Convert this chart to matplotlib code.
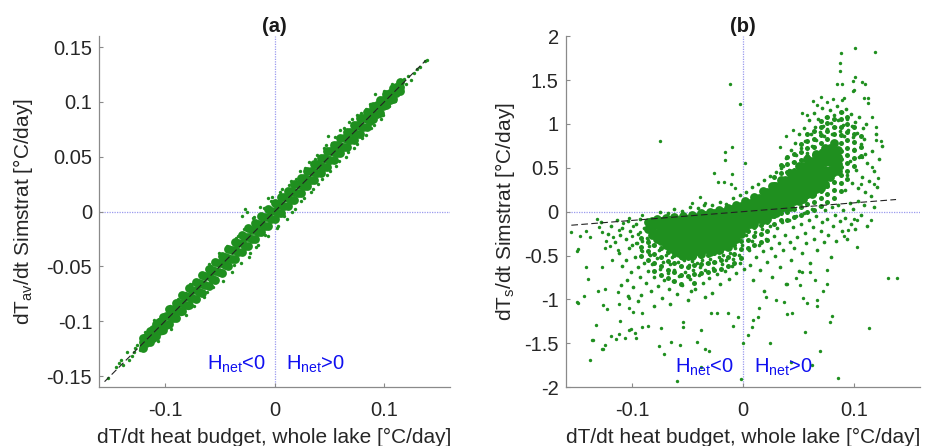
import matplotlib
matplotlib.use('Agg')
import matplotlib.pyplot as plt
from matplotlib.transforms import blended_transform_factory

plt.rcParams['font.family'] = ['Liberation Sans', 'DejaVu Sans']
plt.rcParams['mathtext.fontset'] = 'custom'
plt.rcParams['mathtext.rm'] = 'Liberation Sans'
plt.rcParams['mathtext.it'] = 'Liberation Sans'
plt.rcParams['mathtext.default'] = 'regular'

# ---------------- data: panel (a) ----------------
a_band_x = [-0.120, -0.114, -0.108, -0.102, -0.096, -0.090, -0.084, -0.078, -0.072, -0.066,
            -0.060, -0.054, -0.048, -0.042, -0.036, -0.030, -0.024, -0.018, -0.012, -0.006,
            0.000, 0.006, 0.012, 0.018, 0.024, 0.030, 0.036, 0.042, 0.048, 0.054,
            0.060, 0.066, 0.072, 0.078, 0.084, 0.090, 0.096, 0.102, 0.108, 0.114]
a_band_mid = [-0.119, -0.115, -0.107, -0.103, -0.095, -0.091, -0.083, -0.078, -0.071, -0.066,
              -0.059, -0.054, -0.047, -0.042, -0.035, -0.029, -0.023, -0.017, -0.011, -0.005,
              0.001, 0.006, 0.012, 0.018, 0.024, 0.030, 0.036, 0.042, 0.048, 0.054,
              0.060, 0.066, 0.072, 0.078, 0.084, 0.090, 0.096, 0.102, 0.108, 0.114]
a_band_lo = [-0.124, -0.119, -0.113, -0.108, -0.102, -0.097, -0.091, -0.085, -0.080, -0.074,
             -0.068, -0.062, -0.056, -0.050, -0.043, -0.037, -0.031, -0.025, -0.019, -0.013,
             -0.007, -0.001, 0.005, 0.011, 0.017, 0.023, 0.029, 0.035, 0.041, 0.047,
             0.053, 0.059, 0.065, 0.071, 0.077, 0.084, 0.090, 0.097, 0.103, 0.110]
a_band_hi = [-0.115, -0.109, -0.102, -0.096, -0.089, -0.083, -0.076, -0.070, -0.064, -0.058,
             -0.052, -0.046, -0.040, -0.034, -0.028, -0.021, -0.015, -0.010, -0.004, 0.002,
             0.008, 0.013, 0.019, 0.025, 0.031, 0.037, 0.043, 0.049, 0.055, 0.061,
             0.067, 0.073, 0.079, 0.085, 0.091, 0.096, 0.102, 0.107, 0.113, 0.118]
a_band2_x = [-0.117, -0.111, -0.105, -0.099, -0.093, -0.087, -0.081, -0.075, -0.069, -0.063,
             -0.057, -0.051, -0.045, -0.039, -0.033, -0.027, -0.021, -0.015, -0.009, -0.003,
             0.003, 0.009, 0.015, 0.021, 0.027, 0.033, 0.039, 0.045, 0.051, 0.057,
             0.063, 0.069, 0.075, 0.081, 0.087, 0.093, 0.099, 0.105, 0.111]
a_band2_lo = [-0.120, -0.115, -0.109, -0.103, -0.097, -0.091, -0.085, -0.079, -0.073, -0.067,
              -0.061, -0.055, -0.049, -0.043, -0.037, -0.031, -0.025, -0.019, -0.013, -0.007,
              -0.001, 0.005, 0.011, 0.017, 0.023, 0.029, 0.035, 0.041, 0.047, 0.053,
              0.059, 0.065, 0.071, 0.077, 0.083, 0.089, 0.096, 0.102, 0.108]
a_band2_hi = [-0.114, -0.107, -0.101, -0.095, -0.089, -0.083, -0.077, -0.071, -0.065, -0.059,
              -0.053, -0.047, -0.041, -0.035, -0.029, -0.023, -0.017, -0.011, -0.005, 0.001,
              0.007, 0.013, 0.019, 0.025, 0.031, 0.037, 0.043, 0.049, 0.055, 0.061,
              0.067, 0.073, 0.079, 0.085, 0.091, 0.097, 0.102, 0.108, 0.114]
a_sparse_x = [-0.152, -0.145, -0.142, -0.140, -0.138, -0.135, -0.133, -0.130, -0.128, -0.127,
              -0.125, -0.123, -0.121, -0.118, -0.116, -0.113, -0.110, -0.108, -0.105, -0.103,
              -0.100, -0.097, -0.095, -0.092, -0.088, -0.085, -0.082, -0.079, -0.075, -0.070,
              -0.066, -0.062, -0.058, -0.053, -0.050, -0.046, -0.041, -0.037, -0.033, -0.030,
              -0.027, -0.025, -0.022, -0.020, -0.017, -0.013, -0.009, -0.006, -0.003, 0.003,
              0.005, 0.009, 0.013, 0.016, 0.020, 0.024, 0.028, 0.033, 0.037, 0.040,
              0.045, 0.048, 0.049, 0.052, 0.056, 0.060, 0.065, 0.068, 0.072, 0.075,
              0.080, 0.083, 0.085, 0.088, 0.092, 0.097, 0.100, 0.104, 0.107, 0.110,
              0.113, 0.116, 0.118, 0.120, 0.122, 0.124, 0.127, 0.130, 0.133, 0.137, 0.139]
a_sparse_y = [-0.152, -0.142, -0.138, -0.135, -0.140, -0.128, -0.135, -0.132, -0.128, -0.124,
              -0.122, -0.126, -0.117, -0.110, -0.113, -0.116, -0.104, -0.100, -0.098, -0.111,
              -0.094, -0.104, -0.086, -0.098, -0.080, -0.093, -0.074, -0.088, -0.066, -0.080,
              -0.057, -0.073, -0.050, -0.064, -0.040, -0.057, -0.032, -0.049, -0.022, -0.004,
              0.002, 0.000, -0.038, -0.006, -0.032, 0.004, -0.021, 0.012, 0.010, -0.013,
              0.018, -0.004, 0.024, 0.000, 0.030, 0.010, 0.040, 0.018, 0.048, 0.025,
              0.058, 0.033, 0.069, 0.063, 0.042, 0.074, 0.050, 0.082, 0.058, 0.088,
              0.067, 0.094, 0.092, 0.076, 0.107, 0.084, 0.110, 0.096, 0.116, 0.101,
              0.118, 0.112, 0.121, 0.116, 0.124, 0.120, 0.126, 0.130, 0.132, 0.137, 0.138]
a_edge_x = [-0.110, -0.106, -0.098, -0.094, -0.086, -0.081, -0.077, -0.073, -0.068, -0.064,
            -0.060, -0.056, -0.051, -0.047, -0.043, -0.039, -0.035, -0.031, -0.028, -0.023,
            -0.019, -0.015, -0.010, -0.006, -0.002, 0.002, 0.007, 0.011, 0.015, 0.019,
            0.023, 0.027, 0.031, 0.035, 0.039, 0.043, 0.047, 0.051, 0.055, 0.059,
            0.063, 0.067, 0.071, 0.075, 0.079, 0.083, 0.087, 0.091, 0.095, 0.099]
a_edge_y = [-0.099, -0.118, -0.088, -0.107, -0.075, -0.094, -0.066, -0.086, -0.058, -0.078,
            -0.048, -0.069, -0.038, -0.063, -0.031, -0.055, -0.024, -0.047, -0.016, -0.041,
            -0.005, -0.030, 0.003, -0.022, 0.013, -0.015, 0.021, -0.007, 0.028, 0.002,
            0.037, 0.012, 0.045, 0.021, 0.052, 0.030, 0.061, 0.037, 0.068, 0.046,
            0.076, 0.054, 0.084, 0.062, 0.090, 0.070, 0.098, 0.079, 0.104, 0.088]

# ---------------- data: panel (b) ----------------
b_core_x = [-0.086, -0.078, -0.070, -0.062, -0.054, -0.046, -0.038, -0.030, -0.022, -0.014,
            -0.006, 0.002, 0.010, 0.018, 0.026, 0.034, 0.042, 0.050, 0.058, 0.066,
            0.074, 0.082]
b_core_y = [[-0.12, -0.20],
            [-0.08, -0.15, -0.24, -0.31],
            [-0.07, -0.14, -0.22, -0.30, -0.38],
            [-0.06, -0.13, -0.21, -0.29, -0.37, -0.44],
            [-0.05, -0.12, -0.20, -0.28, -0.36, -0.44, -0.50],
            [-0.04, -0.11, -0.19, -0.27, -0.35, -0.43, -0.50],
            [-0.02, -0.09, -0.17, -0.25, -0.33, -0.41, -0.48],
            [0.00, -0.07, -0.15, -0.23, -0.31, -0.39, -0.46],
            [0.02, -0.05, -0.13, -0.21, -0.29, -0.37, -0.44],
            [0.04, -0.03, -0.11, -0.19, -0.27, -0.34, -0.40],
            [0.08, 0.00, -0.08, -0.16, -0.24, -0.31],
            [0.12, 0.04, -0.04, -0.12, -0.19],
            [0.17, 0.09, 0.01, -0.07, -0.14],
            [0.23, 0.15, 0.07, -0.01, -0.09],
            [0.29, 0.21, 0.13, 0.05, -0.03],
            [0.36, 0.28, 0.20, 0.12, 0.04],
            [0.44, 0.36, 0.28, 0.20, 0.12, 0.05],
            [0.52, 0.44, 0.36, 0.28, 0.20, 0.12],
            [0.60, 0.52, 0.44, 0.36, 0.28, 0.20],
            [0.66, 0.58, 0.50, 0.42, 0.34, 0.26],
            [0.72, 0.64, 0.56, 0.48, 0.40, 0.32],
            [0.78, 0.70, 0.62, 0.54, 0.46]]
b_core2_x = [-0.082, -0.074, -0.066, -0.058, -0.050, -0.042, -0.034, -0.026, -0.018, -0.010,
             -0.002, 0.006, 0.014, 0.022, 0.030, 0.038, 0.046, 0.054, 0.062, 0.070,
             0.078, 0.086]
b_core2_y = [[-0.11, -0.19, -0.27],
             [-0.11, -0.18, -0.26, -0.34],
             [-0.10, -0.17, -0.25, -0.33, -0.41],
             [-0.09, -0.16, -0.24, -0.32, -0.40, -0.47],
             [-0.08, -0.15, -0.23, -0.31, -0.39, -0.47],
             [-0.06, -0.13, -0.21, -0.29, -0.37, -0.45],
             [-0.04, -0.11, -0.19, -0.27, -0.35, -0.43],
             [-0.02, -0.09, -0.17, -0.25, -0.33, -0.41],
             [0.00, -0.07, -0.15, -0.23, -0.31, -0.39],
             [0.03, -0.04, -0.12, -0.20, -0.28, -0.35],
             [0.06, -0.02, -0.10, -0.18, -0.26],
             [0.10, 0.02, -0.06, -0.14],
             [0.16, 0.08, 0.00, -0.08],
             [0.22, 0.14, 0.06, -0.02, -0.08],
             [0.29, 0.21, 0.13, 0.05, -0.02],
             [0.36, 0.28, 0.20, 0.12, 0.05],
             [0.44, 0.36, 0.28, 0.20, 0.12],
             [0.52, 0.44, 0.36, 0.28, 0.20, 0.14],
             [0.58, 0.50, 0.42, 0.34, 0.26, 0.20],
             [0.65, 0.57, 0.49, 0.41, 0.33, 0.27],
             [0.72, 0.64, 0.56, 0.48, 0.40],
             [0.70, 0.62, 0.54, 0.46]]

b_dense_x = [0.028, 0.034, 0.040, 0.046, 0.052, 0.058, 0.064, 0.070, 0.076, 0.082,
             0.088, 0.094, 0.100, 0.106,
             -0.092, -0.086, -0.080, -0.074, -0.068, -0.062, -0.056, -0.050, -0.044, -0.038,
             -0.032, -0.026, -0.020, -0.014, -0.008, -0.002, 0.004, 0.010, 0.016, 0.022]
b_dense_y = [[-0.14, -0.05, 0.04, 0.13, 0.22, 0.31, 0.40],
             [-0.10, -0.01, 0.08, 0.17, 0.26, 0.35, 0.44, 0.53],
             [-0.09, 0.00, 0.09, 0.18, 0.27, 0.36, 0.45, 0.54, 0.62],
             [-0.06, 0.03, 0.12, 0.21, 0.30, 0.39, 0.48, 0.57, 0.66],
             [-0.04, 0.05, 0.14, 0.23, 0.32, 0.41, 0.50, 0.59, 0.68, 0.77],
             [0.00, 0.09, 0.18, 0.27, 0.36, 0.45, 0.54, 0.63, 0.72, 0.81, 0.88],
             [0.02, 0.11, 0.20, 0.29, 0.38, 0.47, 0.56, 0.65, 0.74, 0.83, 0.92],
             [0.06, 0.15, 0.24, 0.33, 0.42, 0.51, 0.60, 0.69, 0.78, 0.87, 0.96, 1.03],
             [0.11, 0.20, 0.29, 0.38, 0.47, 0.56, 0.65, 0.74, 0.83, 0.92, 1.01, 1.08],
             [0.16, 0.25, 0.34, 0.43, 0.52, 0.61, 0.70, 0.79, 0.88, 0.97, 1.06],
             [0.24, 0.33, 0.42, 0.51, 0.60, 0.69, 0.78, 0.87, 0.96, 1.05, 1.13],
             [0.37, 0.46, 0.55, 0.64, 0.73, 0.82, 0.91, 1.00, 1.08],
             [0.52, 0.61, 0.70, 0.79, 0.88, 0.97],
             [0.63, 0.74, 0.86],
             [-0.30, -0.40, -0.50],
             [-0.35, -0.45, -0.55],
             [-0.38, -0.48, -0.58, -0.68],
             [-0.42, -0.52, -0.62, -0.72],
             [-0.46, -0.56, -0.66, -0.76],
             [-0.49, -0.59, -0.69, -0.79],
             [-0.52, -0.62, -0.72, -0.82],
             [-0.53, -0.63, -0.73],
             [-0.51, -0.61, -0.71, -0.81],
             [-0.50, -0.60, -0.70],
             [-0.49, -0.59, -0.69],
             [-0.47, -0.57, -0.67],
             [-0.45, -0.55, -0.65],
             [-0.42, -0.52, -0.62],
             [-0.38, -0.48, -0.58],
             [-0.33, -0.43, -0.53],
             [-0.22, -0.32, -0.42],
             [-0.18, -0.28, -0.38],
             [-0.15, -0.25, -0.35],
             [-0.12, -0.22, -0.32]]

b_mid_x = [-0.112, -0.109, -0.106, -0.105, -0.103, -0.101, -0.099, -0.098, -0.096, -0.095,
           -0.093, -0.092, -0.091, -0.089, -0.088, -0.087, -0.086, -0.084, -0.083, -0.082,
           -0.081, -0.080, -0.078, -0.077, -0.076, -0.075, -0.073, -0.072, -0.071, -0.070,
           -0.068, -0.067, -0.066, -0.064, -0.063, -0.062, -0.060, -0.059, -0.058, -0.056,
           -0.055, -0.053, -0.052, -0.050, -0.049, -0.048, -0.046, -0.045, -0.043, -0.042,
           -0.040, -0.039, -0.037, -0.036, -0.034, -0.033, -0.031, -0.030, -0.028, -0.027,
           -0.025, -0.024, -0.022, -0.021, -0.019, -0.018, -0.016, -0.015, -0.013, -0.012,
           -0.010, -0.009, -0.007, -0.006, -0.004, -0.003, -0.001, 0.001, -0.034, -0.047,
           -0.066, -0.080, -0.095, -0.104, -0.110,
           -0.128, -0.122, -0.119, -0.116, -0.114, -0.111, -0.109, -0.106, -0.104, -0.102,
           -0.100, -0.097, -0.095, -0.093, -0.091, -0.089, -0.087, -0.085,
           0.003, 0.005, 0.006, 0.008, 0.009, 0.011, 0.012, 0.014, 0.015, 0.017,
           0.018, 0.019, 0.021, 0.022, 0.024, 0.025, 0.026, 0.028, 0.029, 0.031,
           0.032, 0.033, 0.035, 0.036, 0.038, 0.039, 0.041, 0.042, 0.043, 0.045,
           0.046, 0.048, 0.049, 0.050, 0.052, 0.053, 0.055, 0.056, 0.057, 0.059,
           0.060, 0.062, 0.063, 0.064, 0.066, 0.067, 0.069, 0.070, 0.071, 0.073,
           0.074, 0.076, 0.077, 0.079, 0.080, 0.081, 0.083, 0.084, 0.086, 0.087,
           0.089, 0.090, 0.092, 0.094, 0.096, 0.097, 0.099, 0.101, 0.104, 0.106,
           0.109, 0.112, 0.115, 0.118,
           0.092, 0.094, 0.096, 0.098, 0.100, 0.102, 0.104, 0.105, 0.107, 0.109,
           0.110, 0.112, 0.114, 0.116, 0.118, 0.120, 0.121, 0.123, 0.125,
           0.036, 0.039, 0.041, 0.043, 0.045, 0.047, 0.048, 0.050, 0.052, 0.053,
           0.055, 0.056, 0.058, 0.059, 0.061, 0.062, 0.064, 0.065, 0.066, 0.068,
           0.069, 0.071, 0.072, 0.073, 0.075, 0.076, 0.078, 0.079, 0.080, 0.082,
           0.083, 0.085, 0.086, 0.087, 0.089, 0.090, 0.091, 0.093, 0.094, 0.095,
           0.097, 0.098, 0.099, 0.101, 0.103, 0.105, 0.106, 0.108, 0.110, 0.111,
           -0.075, -0.068, -0.062, -0.055, -0.048, -0.041, -0.035, -0.028, -0.021, -0.015,
           -0.009, -0.003, 0.003, 0.008, 0.013, 0.019, 0.024, 0.030, 0.034]
b_mid_y = [-0.47, -0.62, -0.55, -0.78, -0.41, -0.69, -0.86, -0.52, -0.36, -0.63,
           -0.75, -0.95, -0.45, -0.58, -0.81, -0.30, -0.68, -0.49, -0.90, -0.60,
           -0.38, -0.74, -0.53, -0.85, -0.44, -0.65, -0.99, -0.57, -0.78, -0.49,
           -0.70, -0.88, -0.60, -0.52, -0.79, -0.66, -0.94, -0.57, -0.73, -0.62,
           -0.84, -0.55, -0.69, -1.01, -0.61, -0.77, -0.56, -0.66, -0.88, -0.58,
           -0.72, -0.63, -0.55, -0.81, -0.67, -0.59, -0.76, -0.54, -0.93, -0.64,
           -0.57, -0.71, -0.52, -0.83, -0.60, -0.49, -0.68, -0.55, -0.77, -0.47,
           -0.62, -0.54, -0.41, -0.70, -0.49, -0.58, -0.38, -0.65, -0.97, -0.91,
           -1.05, -1.08, -1.02, -0.96, -0.84,
           -0.12, -0.26, -0.16, -0.35, -0.09, -0.27, -0.19, -0.31, -0.11, -0.22,
           -0.38, -0.14, -0.26, -0.08, -0.33, -0.19, -0.12, -0.39,
           -0.27, -0.44, -0.61, -0.33, -0.78, -0.23, -0.52, -0.38, -0.67, -0.20,
           -0.45, -0.90, -0.31, -0.57, -0.16, -0.42, -0.74, -0.28, -0.51, -0.19,
           -0.36, -0.63, -0.12, -0.44, -0.27, -0.82, -0.09, -0.35, -0.55, -0.18,
           -0.42, -0.05, -0.29, -0.68, -0.14, -0.47, -0.02, -0.24, -0.36, -0.09,
           -0.58, 0.03, -0.17, -0.31, -0.05, -0.44, 0.06, -0.22, -0.12, -0.35,
           0.02, -0.08, -0.27, -0.52, 0.05, -0.16, -0.04, -0.33, 0.08, -0.11,
           -0.22, 0.02, -0.07, -0.31, 0.10, -0.14, 0.03, -0.20, 0.12, -0.04,
           0.07, -0.16, 0.18, 0.05,
           0.25, 0.42, 0.58, 0.33, 0.71, 0.48, 0.27, 0.62, 0.40, 0.83,
           0.22, 0.55, 0.35, 0.69, 0.46, 0.88, 0.28, 0.60, 0.75,
           0.52, 0.61, 0.47, 0.70, 0.56, 0.78, 0.64, 0.88, 0.72, 0.59,
           0.95, 0.81, 0.67, 1.04, 0.88, 0.75, 1.12, 0.96, 0.82, 1.05,
           0.91, 1.18, 0.98, 0.86, 1.08, 0.94, 1.16, 1.01, 0.89, 1.10,
           0.97, 1.20, 1.04, 0.92, 1.13, 0.99, 0.86, 1.17, 1.05, 0.93,
           1.11, 0.98, 0.85, 1.02, 0.90, 1.08, 0.77, 0.95, 0.66, 1.00,
           0.00, -0.01, 0.03, 0.01, 0.05, 0.04, 0.08, 0.07, 0.11, 0.09,
           0.15, 0.19, 0.22, 0.28, 0.32, 0.36, 0.41, 0.45, 0.50]

b_out_x = [-0.155, -0.149, -0.147, -0.142, -0.138, -0.132, -0.130, -0.127, -0.124, -0.125,
           -0.120, -0.118, -0.113, -0.117, -0.112, -0.108, -0.103, -0.100, -0.097, -0.099,
           -0.092, -0.091, -0.093, -0.085, -0.086, -0.026, -0.016, -0.016, -0.023, -0.017,
           -0.010, -0.011, -0.007, -0.039, -0.046, -0.034, -0.012, -0.003, -0.075, -0.010,
           0.002,
           0.101, 0.088, 0.119, 0.087, 0.087, 0.085, 0.089, 0.101, 0.099, 0.107,
           0.110, 0.100, 0.099, 0.091, 0.089, 0.081, 0.076, 0.070, 0.063, 0.067,
           0.053, 0.058, 0.109, 0.113, 0.113, 0.116, 0.120, 0.124, 0.120, 0.039,
           0.033, 0.045, 0.115, 0.100, 0.103, 0.095, 0.091, 0.103, 0.122, 0.118,
           0.106, 0.116, 0.107,
           0.131, 0.139, 0.114, 0.080, 0.078, 0.056, 0.069, 0.086, 0.062, 0.024,
           0.013, 0.004, 0.040, 0.044, 0.054, 0.058, 0.067, 0.067, 0.072, 0.076,
           0.065, 0.051, 0.037, 0.030, 0.008, 0.009, 0.014, 0.021, 0.040, 0.048,
           0.053, 0.060, 0.076, 0.043,
           -0.149, -0.144, -0.140, -0.138, -0.135, -0.133, -0.127, -0.125, -0.126, -0.125,
           -0.123, -0.119, -0.115, -0.112, -0.111, -0.107, -0.113, -0.112, -0.103, -0.101,
           -0.098, -0.097, -0.103, -0.103, -0.099, -0.091, -0.086, -0.091, -0.076, -0.071,
           -0.074, -0.060, -0.065, -0.057, -0.054, -0.054, -0.042, -0.038, -0.034, -0.031,
           -0.038, -0.029, -0.009, -0.002, 0.000, -0.024, -0.014, -0.005,
           -0.150, -0.150, -0.142, -0.127, -0.131, -0.136, -0.126]
b_out_y = [-0.23, -0.43, -0.28, -0.22, -0.29, -0.08, -0.18, -0.23, -0.33, -0.42,
           -0.39, -0.55, -0.44, -0.29, -0.21, -0.13, -0.07, -0.28, -0.36, -0.16,
           -0.44, -0.04, -0.23, -0.48, -0.32, 0.44, 0.68, 0.59, 0.34, 0.34,
           0.43, 0.32, 0.27, 0.17, 0.10, 0.10, 1.46, 1.23, 0.81, 0.74,
           0.55,
           1.87, 1.81, 1.82, 1.69, 1.60, 1.46, 1.45, 1.53, 1.49, 1.48,
           1.45, 1.39, 1.37, 1.29, 1.27, 1.28, 1.25, 1.31, 1.26, 1.21,
           1.12, 1.10, 1.29, 1.29, 1.24, 1.08, 0.97, 0.80, 0.82, 0.86,
           0.74, 0.93, -0.10, -0.08, -0.09, -0.21, -0.28, -0.40, 0.38, 0.32,
           0.32, 0.51, 0.62,
           -0.76, -0.76, -1.33, -1.19, -1.26, -1.37, -1.59, -1.90, -1.75, -1.50,
           -1.20, -1.41, -1.17, -1.16, -0.99, -1.04, -1.01, -1.07, -0.91, -0.82,
           -0.78, -0.84, -1.03, -1.01, -1.32, -1.24, -1.10, -0.97, -0.82, -0.76,
           -0.69, -0.69, -0.67, -1.71,
           -1.04, -0.96, -0.77, -1.69, -1.46, -1.29, -1.57, -1.52, -1.06, -0.88,
           -1.11, -1.42, -1.45, -1.40, -1.25, -1.44, -0.92, -1.05, -1.35, -1.34,
           -1.38, -1.44, -1.10, -0.99, -1.14, -1.31, -1.30, -1.16, -1.53, -1.62,
           -1.33, -1.93, -1.49, -1.52, -1.32, -1.26, -1.49, -1.35, -1.56, -1.59,
           -1.77, -1.16, -1.30, -1.91, -1.50, -1.15, -1.15, -1.20,
           -1.03, -0.45, -0.63, -0.63, -0.90, -1.46, -1.57]

one_to_one = [-0.155, 0.138]

x_ticks = [-0.1, 0, 0.1]
x_ticklabels = ['-0.1', '0', '0.1']
a_yticks = [-0.15, -0.1, -0.05, 0, 0.05, 0.1, 0.15]
a_yticklabels = ['-0.15', '-0.1', '-0.05', '0', '0.05', '0.1', '0.15']
b_yticks = [-2, -1.5, -1, -0.5, 0, 0.5, 1, 1.5, 2]
b_yticklabels = ['-2', '-1.5', '-1', '-0.5', '0', '0.5', '1', '1.5', '2']

xlabel = 'dT/dt heat budget, whole lake [°C/day]'
a_ylabel = 'dT$_{av}$/dt Simstrat [°C/day]'
b_ylabel = 'dT$_{s}$/dt Simstrat [°C/day]'

# ---------------- plotting ----------------
GREEN = '#1f8f1f'
AXC = '#8a8a8a'
ZC = '#9a9aee'
TXT = '#262626'

fig = plt.figure(figsize=(9.26, 4.46), dpi=100)
ax_a = fig.add_axes([0.107, 0.132, 0.379, 0.787])
ax_b = fig.add_axes([0.611, 0.132, 0.383, 0.787])


def style(ax, yticks, ylabels, ylim, ylab, title, ylabpad, hy):
    ax.set_xlim(-0.16, 0.16)
    ax.set_ylim(*ylim)
    for s in ['top', 'right']:
        ax.spines[s].set_visible(False)
    for s in ['left', 'bottom']:
        ax.spines[s].set_color(AXC)
        ax.spines[s].set_linewidth(0.9)
    ax.set_xticks(x_ticks)
    ax.set_xticklabels(x_ticklabels)
    ax.set_yticks(yticks)
    ax.set_yticklabels(ylabels)
    ax.tick_params(direction='in', length=3, width=0.8, color=AXC,
                   labelsize=14.5, labelcolor=TXT)
    ax.tick_params(axis='y', pad=5)
    ax.tick_params(axis='x', pad=10)
    ax.set_xlabel(xlabel, fontsize=15, color=TXT, labelpad=6)
    ax.set_ylabel(ylab, fontsize=15, color=TXT, labelpad=ylabpad)
    ax.set_title(title, fontsize=14.5, fontweight='bold', color='#1a1a1a', pad=2)
    ax.axhline(0, color=ZC, lw=0.9, ls=(0, (1, 1)), zorder=1)
    ax.axvline(0, color=ZC, lw=0.9, ls=(0, (1, 1)), zorder=1)
    ax.plot(one_to_one, one_to_one, color='#222222', lw=0.8, ls=(0, (6, 3)), zorder=5)
    tr = blended_transform_factory(ax.transData, ax.transAxes)
    ax.text(-0.008, hy, 'H$_{net}$<0', color='#1010f0', fontsize=14.5,
            ha='right', va='baseline', transform=tr, zorder=6)
    ax.text(0.010, hy, 'H$_{net}$>0', color='#1010f0', fontsize=14.5,
            ha='left', va='baseline', transform=tr, zorder=6)


style(ax_a, a_yticks, a_yticklabels, (-0.16, 0.16), a_ylabel, '(a)', 8, 0.051)
style(ax_b, b_yticks, b_yticklabels, (-2, 2), b_ylabel, '(b)', 5, 0.040)

# panel (a)
for ys in (a_band_lo, a_band_mid, a_band_hi):
    ax_a.scatter(a_band_x, ys, s=40, color=GREEN, linewidths=0, zorder=3)
for ys in (a_band2_lo, a_band2_hi):
    ax_a.scatter(a_band2_x, ys, s=40, color=GREEN, linewidths=0, zorder=3)
ax_a.scatter(a_sparse_x, a_sparse_y, s=6, color=GREEN, linewidths=0, zorder=3)
ax_a.scatter(a_edge_x, a_edge_y, s=6, color=GREEN, linewidths=0, zorder=3)

# panel (b)
def flat(xs, yss):
    return ([x for x, ys in zip(xs, yss) for _ in ys], [y for ys in yss for y in ys])

cx, cy = flat(b_core_x, b_core_y)
cx2, cy2 = flat(b_core2_x, b_core2_y)
dx, dy = flat(b_dense_x, b_dense_y)
ax_b.scatter(cx, cy, s=40, color=GREEN, linewidths=0, zorder=3)
ax_b.scatter(cx2, cy2, s=40, color=GREEN, linewidths=0, zorder=3)
ax_b.scatter(dx, dy, s=13, color=GREEN, linewidths=0, zorder=3)
ax_b.scatter(b_mid_x, b_mid_y, s=7, color=GREEN, linewidths=0, zorder=3)
ax_b.scatter(b_out_x, b_out_y, s=6, color=GREEN, linewidths=0, zorder=3)

fig.savefig('out.png', dpi=100)
